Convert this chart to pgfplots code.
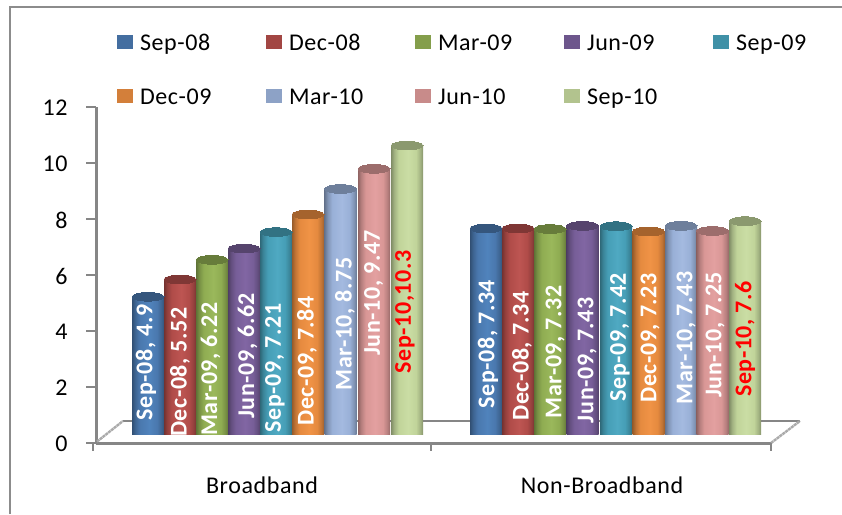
\documentclass[border=0pt]{standalone}
\usepackage{fontspec}
\setmainfont{Carlito}[LetterSpace=2.5]
\usepackage{pgfplots}
\usepackage{pgfplotstable}
\pgfplotsset{compat=1.18}

\definecolor{axisgray}{HTML}{868686}
\definecolor{framegray}{HTML}{8C8C8C}

% cylinder side shading for a series colour
\newcommand{\cylshade}[3]{%
  \definecolor{#1}{HTML}{#2}\definecolor{#1L}{HTML}{#3}%
  \pgfdeclarehorizontalshading{cyl#1}{100bp}{%
    color(0bp)=(#1!66!black); color(25bp)=(#1!66!black);
    color(30bp)=(#1!84!black); color(37bp)=(#1);
    color(52bp)=(#1L); color(64bp)=(#1);
    color(71bp)=(#1!84!black); color(75bp)=(#1!70!black);
    color(100bp)=(#1!70!black)}}
\cylshade{sa}{4A78AE}{5083BC}
\cylshade{sb}{B04C49}{BD5552}
\cylshade{sc}{8FAC52}{9AB85B}
\cylshade{sd}{775E98}{8166A3}
\cylshade{se}{469EB6}{4FA9C2}
\cylshade{sf}{E58A3F}{F09346}
\cylshade{sg}{99B0D7}{A4BAE0}
\cylshade{sh}{D99796}{E3A0A0}
\cylshade{si}{C1D49A}{CADDA4}

% one cylinder series: a shaded bar per group (each its own path, so the
% shading spans a single bar) and elliptic caps
\newcommand{\cyl}[5]{%
  \addplot[forget plot, ybar, bar width=32pt, bar shift=0pt, draw=none, shading=cyl#1]
    coordinates {(#2,#3)};
  \addplot[forget plot, ybar, bar width=32pt, bar shift=0pt, draw=none, shading=cyl#1]
    coordinates {(#4,#5)};
  \addplot[forget plot, only marks, mark=*, mark size=16pt,
    mark options={yscale=0.27, line width=0pt, draw=#1!72!black, fill=#1!72!black}]
    coordinates {(#2,#3) (#4,#5)};
}

% rotated text inside the bars; y is the position of the text centre
\pgfplotstableread[col sep=semicolon]{
x;y;lab
146;2.56;Sep-08, 4.9
180;2.21;Dec-08, 5.52
210.5;2.32;Mar-09, 6.22
247.5;2.79;Jun-09, 6.62
275;2.36;Sep-09, 7.21
307;2.61;Dec-09, 7.84
345;3.93;Mar-10, 8.75
373.5;5.04;Jun-10, 9.47
488;3.21;Sep-08, 7.34
522;2.79;Dec-08, 7.34
555;2.93;Mar-09, 7.32
587;2.64;Jun-09, 7.43
620;3.46;Sep-09, 7.42
650;3.43;Dec-09, 7.23
686;3.43;Mar-10, 7.43
715;3.54;Jun-10, 7.25
}\whitelabels
\pgfplotstableread[col sep=semicolon]{
x;y;lab
405;4.36;Sep-10,10.3
745;3.39;Sep-10, 7.6
}\redlabels

\begin{document}
\begin{tikzpicture}[x=1pt,y=1pt]
\path[use as bounding box] (0,0) rectangle (842,514);
\draw[framegray,line width=1.8pt] (10,0) -- (10,507) -- (842,507);

% value scale, category names and floor
\begin{axis}[
  at={(96pt,71pt)}, anchor=south west, scale only axis,
  width=675pt, height=336pt,
  xmin=96, xmax=771, ymin=0, ymax=12, clip=false,
  axis x line*=bottom, axis y line*=left,
  axis line style={axisgray,line width=3pt,-},
  tick style={axisgray,line width=1.5pt},
  tick align=outside,
  major tick length=10pt,
  ytick={0,2,...,12},
  xtick={262,602}, xticklabels={Broadband,Non-Broadband},
  x tick style={draw=none},
  tick label style={font=\fontsize{24}{28}\selectfont,text=black},
  yticklabel style={xshift=-15pt,yshift=-1pt},
  xticklabel style={yshift=-20pt},
  /pgf/number format/assume math mode=true,
]
\addplot[forget plot,axisgray,line width=2.6pt] coordinates {(123,0.786) (800,0.786)};
\addplot[forget plot,axisgray!70,line width=2.4pt,dash pattern=on 3pt off 0.6pt] coordinates {(97,0.05) (123,0.786)};
\addplot[forget plot,axisgray!70,line width=2.4pt,dash pattern=on 3pt off 0.6pt] coordinates {(771,0) (800,0.786)};
\addplot[forget plot,axisgray,line width=1.5pt] coordinates {(93,0) (93,-0.28)};
\addplot[forget plot,axisgray,line width=1.5pt] coordinates {(431,0) (431,-0.28)};
\addplot[forget plot,axisgray,line width=1.5pt] coordinates {(771,0) (771,-0.28)};
\end{axis}

% cylinders, their text and the legend
\begin{axis}[
  at={(96pt,80pt)}, anchor=south west, scale only axis,
  width=675pt, height=336pt,
  xmin=96, xmax=771, ymin=0, ymax=12, clip=false,
  hide axis,
  legend columns=5,
  legend cell align=left,
  legend style={
    at={(0.03111,1.1861)}, anchor=north west,
    draw=none, fill=none, inner sep=0pt, outer sep=0pt,
    font=\fontsize{24}{28}\selectfont,
    nodes={inner sep=0pt, text width=126pt, text height=14pt, text depth=4pt},
    row sep=35pt,
    /tikz/every odd column/.append style={column sep=7pt},
  },
  legend image code/.code={\fill[#1,draw=none] (0pt,-4pt) rectangle (16pt,10pt);},
]
\addlegendimage{fill=sa!92!black}\addlegendentry{Sep-08}
\addlegendimage{fill=sb!92!black}\addlegendentry{Dec-08}
\addlegendimage{fill=sc!92!black}\addlegendentry{Mar-09}
\addlegendimage{fill=sd!92!black}\addlegendentry{Jun-09}
\addlegendimage{fill=se!92!black}\addlegendentry{Sep-09}
\addlegendimage{fill=sf!92!black}\addlegendentry{Dec-09}
\addlegendimage{fill=sg!92!black}\addlegendentry{Mar-10}
\addlegendimage{fill=sh!92!black}\addlegendentry{Jun-10}
\addlegendimage{fill=si!92!black}\addlegendentry{Sep-10}

\cyl{sa}{148}{4.9}{486}{7.34}
\cyl{sb}{180}{5.52}{518}{7.34}
\cyl{sc}{212}{6.22}{550}{7.32}
\cyl{sd}{244}{6.62}{582.5}{7.43}
\cyl{se}{276}{7.21}{616}{7.42}
\cyl{sf}{308}{7.84}{648.5}{7.23}
\cyl{sg}{340.5}{8.75}{681}{7.43}
\cyl{sh}{374}{9.47}{712.5}{7.25}
\cyl{si}{407}{10.3}{745}{7.6}

\addplot[forget plot, draw=none, mark=none,
  nodes near coords, point meta=explicit symbolic,
  every node near coord/.append style={rotate=90, anchor=center, inner sep=0pt,
    text=white, font=\fontsize{24}{28}\selectfont\bfseries}]
  table[x=x,y=y,meta=lab] {\whitelabels};
\addplot[forget plot, draw=none, mark=none,
  nodes near coords, point meta=explicit symbolic,
  every node near coord/.append style={rotate=90, anchor=center, inner sep=0pt,
    text=red, font=\fontsize{24}{28}\selectfont\bfseries}]
  table[x=x,y=y,meta=lab] {\redlabels};
\end{axis}
\end{tikzpicture}
\end{document}
